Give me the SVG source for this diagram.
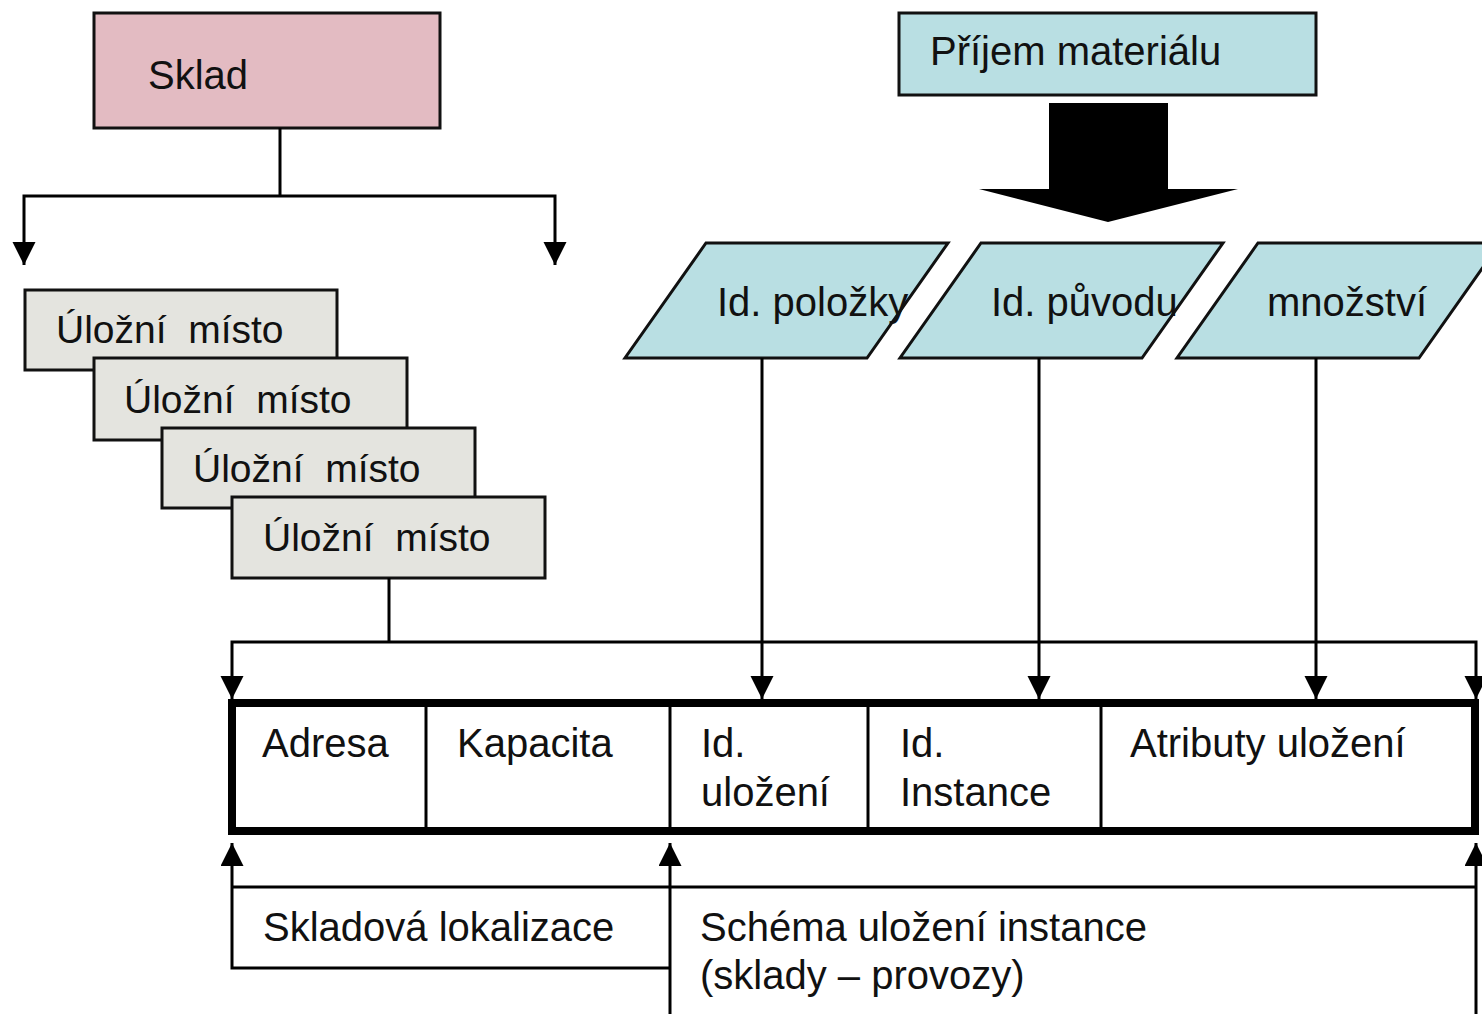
<svg xmlns="http://www.w3.org/2000/svg" width="1482" height="1014" viewBox="0 0 1482 1014">
<style>
  text { font-family: "Liberation Sans", Arial, sans-serif; font-size: 40px; fill: #111; }
  .box { stroke: #111; stroke-width: 3; }
  .sklad { fill: #e3bbc2; }
  .cyan { fill: #b9dfe3; }
  .grey { fill: #e4e4df; }
  .ln { fill: none; stroke: #000; stroke-width: 3; }
  .arr { marker-end: url(#ah); }
  .tbl { fill: #fff; stroke: #000; stroke-width: 8; }
  .div { stroke: #000; stroke-width: 3; }
  .um { font-size: 39px; }
</style>
<defs>
  <marker id="ah" markerUnits="userSpaceOnUse" markerWidth="24" markerHeight="24" refX="23" refY="11.5" orient="auto">
    <path d="M0,0 L23,11.5 L0,23 z" fill="#000"/>
  </marker>
</defs>
<rect width="1482" height="1014" fill="#fff"/>

<g id="sklad">
  <rect class="box sklad" x="94" y="13" width="346" height="115"/>
  <text x="148" y="89">Sklad</text>
</g>

<g id="prijem">
  <rect class="box cyan" x="899" y="13" width="417" height="82"/>
  <text x="930" y="65">Příjem materiálu</text>
</g>

<g id="big-arrow">
  <polygon points="1049,103 1168,103 1168,189 1238,189 1108,222 979,189 1049,189" fill="#000"/>
</g>

<g id="uloz1">
  <rect class="box grey" x="25" y="290" width="312" height="80"/>
  <text class="um" x="56" y="343" xml:space="preserve">Úložní  místo</text>
</g>
<g id="uloz2">
  <rect class="box grey" x="94" y="358" width="313" height="82"/>
  <text class="um" x="124" y="413" xml:space="preserve">Úložní  místo</text>
</g>
<g id="uloz3">
  <rect class="box grey" x="162" y="428" width="313" height="80"/>
  <text class="um" x="193" y="482" xml:space="preserve">Úložní  místo</text>
</g>
<g id="uloz4">
  <rect class="box grey" x="232" y="497" width="313" height="81"/>
  <text class="um" x="263" y="551" xml:space="preserve">Úložní  místo</text>
</g>

<g id="id-polozky">
  <polygon class="box cyan" points="706,243 948,243 867,358 625,358"/>
  <text x="717" y="316">Id. položky</text>
</g>
<g id="id-puvodu">
  <polygon class="box cyan" points="981,243 1223,243 1142,358 900,358"/>
  <text x="991" y="316">Id. původu</text>
</g>
<g id="mnozstvi">
  <polygon class="box cyan" points="1258,243 1500,243 1419,358 1177,358"/>
  <text x="1267" y="316">množství</text>
</g>

<g id="table">
  <rect class="tbl" x="232" y="703" width="1243" height="128"/>
  <line class="div" x1="426" y1="703" x2="426" y2="831"/>
  <line class="div" x1="670" y1="703" x2="670" y2="831"/>
  <line class="div" x1="868" y1="703" x2="868" y2="831"/>
  <line class="div" x1="1101" y1="703" x2="1101" y2="831"/>
  <text x="262" y="757">Adresa</text>
  <text x="457" y="757">Kapacita</text>
  <text x="701" y="757">Id.</text>
  <text x="701" y="806">uložení</text>
  <text x="900" y="757">Id.</text>
  <text x="900" y="806">Instance</text>
  <text x="1130" y="757">Atributy uložení</text>
</g>

<g id="labels">
  <text x="263" y="941">Skladová lokalizace</text>
  <text x="700" y="941">Schéma uložení instance</text>
  <text x="700" y="989">(sklady – provozy)</text>
</g>

<g id="connectors">
  <polyline class="ln" points="280,128 280,196"/>
  <polyline class="ln arr" points="280,196 24,196 24,265"/>
  <polyline class="ln arr" points="280,196 555,196 555,265"/>
  <polyline class="ln" points="389,578 389,642"/>
  <polyline class="ln arr" points="389,642 232,642 232,699"/>
  <polyline class="ln arr" points="389,642 1476,642 1476,699"/>
  <line class="ln arr" x1="762" y1="358" x2="762" y2="699"/>
  <line class="ln arr" x1="1039" y1="358" x2="1039" y2="699"/>
  <line class="ln arr" x1="1316" y1="358" x2="1316" y2="699"/>
  <polyline class="ln arr" points="670,968 232,968 232,843"/>
  <line class="ln" x1="232" y1="887" x2="1476" y2="887"/>
  <line class="ln arr" x1="670" y1="1014" x2="670" y2="843"/>
  <line class="ln arr" x1="1476" y1="1014" x2="1476" y2="843"/>
</g>
</svg>
